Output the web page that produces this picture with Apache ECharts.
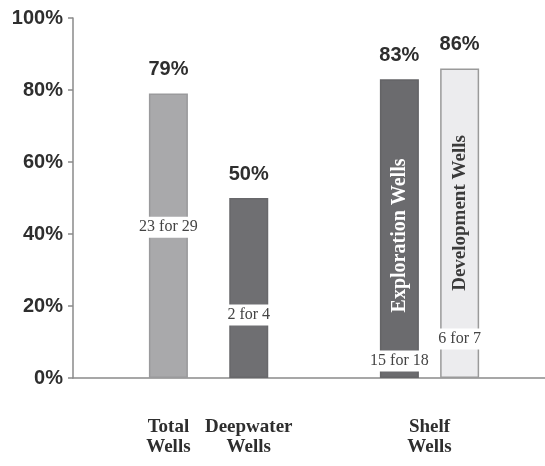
<!DOCTYPE html>
<html>
<head>
<meta charset="utf-8">
<script src="https://cdn.jsdelivr.net/npm/echarts@6/dist/echarts.min.js"></script>
<style>
html,body{margin:0;padding:0;background:#fff;}
#chart{width:545px;height:466px;}
</style>
</head>
<body>
<div id="chart"></div>
<script>
// ---- data ----
const groupLabels = ['Total\nWells', 'Deepwater\nWells', 'Shelf\nWells'];
const barNames = ['Total Wells', 'Deepwater Wells', 'Exploration Wells', 'Development Wells'];
const values = [79, 50, 83, 86];
const countLabels = ['23 for 29', '2 for 4', '15 for 18', '6 for 7'];
const innerTitles = ['', '', 'Exploration Wells', 'Development Wells'];
const tickLabels = ['0%', '20%', '40%', '60%', '80%', '100%'];

// ---- layout (slots on a fine category axis) ----
const slotCount = 47;
const barSlots = [9, 17, 32, 38];
const groupSlots = [9, 17, 35];
const barColors = ['#a9a9ab', '#6f6f72', '#6b6b6e', '#ececee'];
const barBorders = ['#9a9a9c', '#68686b', '#646467', '#9a9a9a'];
const countPos = ['47%', '65%', '94.3%', '87.4%'];
const titlePos = ['50%', '50%', '52.3%', '46.7%'];
const titleColors = ['#fff', '#fff', '#ffffff', '#3a3a3a'];
const titleSizes = [19, 19, 20, 19];

const axisData = new Array(slotCount).fill('');
groupSlots.forEach((s, i) => { axisData[s] = groupLabels[i]; });

function blank() { return new Array(slotCount).fill('-'); }
const mainData = blank(), countData = blank(), titleData = blank();
barSlots.forEach((s, i) => {
  mainData[s] = {
    value: values[i], name: barNames[i],
    itemStyle: { color: barColors[i], borderColor: barBorders[i], borderWidth: 1.5 }
  };
  countData[s] = {
    value: values[i],
    label: { formatter: countLabels[i], position: ['50%', countPos[i]] }
  };
  titleData[s] = {
    value: values[i],
    label: { show: innerTitles[i] !== '', formatter: innerTitles[i], position: ['50%', titlePos[i]],
             color: titleColors[i], fontSize: titleSizes[i] }
  };
});

const chart = echarts.init(document.getElementById('chart'), null, { renderer: 'canvas' });
chart.setOption({
  animation: false,
  backgroundColor: '#ffffff',
  grid: { left: 73, right: 0, top: 18, bottom: 88 },
  xAxis: {
    type: 'category',
    data: axisData,
    axisLine: { lineStyle: { color: '#8a8a8a', width: 1.5 } },
    axisTick: { show: false },
    axisLabel: {
      interval: 0, margin: 39,
      fontFamily: 'Liberation Serif', fontWeight: 'bold', fontSize: 19,
      lineHeight: 20, color: '#2e2e2e'
    }
  },
  yAxis: {
    type: 'value', min: 0, max: 100, interval: 20,
    splitLine: { show: false },
    axisLine: { show: true, lineStyle: { color: '#8a8a8a', width: 1.5 } },
    axisTick: { show: true, length: 5, lineStyle: { color: '#8a8a8a', width: 1.5 } },
    axisLabel: {
      margin: 10,
      formatter: (v) => tickLabels[Math.round(v / 20)],
      fontFamily: 'Liberation Sans', fontWeight: 'bold', fontSize: 20, color: '#2e2e2e'
    }
  },
  series: [
    {
      type: 'bar', data: mainData, barWidth: 39, z: 2,
      label: {
        show: true, position: 'top', distance: 14,
        formatter: (p) => p.value + '%',
        fontFamily: 'Liberation Sans', fontWeight: 'bold', fontSize: 20, color: '#2e2e2e'
      }
    },
    {
      type: 'bar', data: countData, barWidth: 39, barGap: '-100%', z: 3,
      itemStyle: { color: 'rgba(0,0,0,0)' },
      label: {
        show: true, align: 'center', verticalAlign: 'middle',
        fontFamily: 'Liberation Serif', fontSize: 16, color: '#444',
        backgroundColor: '#ffffff', padding: [3, 4, 2, 4]
      }
    },
    {
      type: 'bar', data: titleData, barWidth: 39, barGap: '-100%', z: 4,
      itemStyle: { color: 'rgba(0,0,0,0)' },
      label: {
        show: true, rotate: 90, align: 'center', verticalAlign: 'middle',
        fontFamily: 'Liberation Serif', fontWeight: 'bold', fontSize: 19
      }
    }
  ]
});
</script>
</body>
</html>
